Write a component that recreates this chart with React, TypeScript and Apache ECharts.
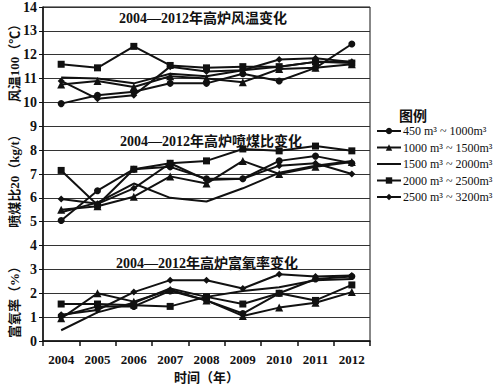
import React, { useEffect, useRef } from "react";
import * as echarts from "echarts";

const years = ["2004", "2005", "2006", "2007", "2008", "2009", "2010", "2011", "2012"];
const seriesNames = [
  "450 m³ ~ 1000m³",
  "1000 m³ ~ 1500m³",
  "1500 m³ ~ 2000m³",
  "2000 m³ ~ 2500m³",
  "2500 m³ ~ 3200m³",
];
const symbols = ["circle", "triangle", "none", "rect", "diamond"];
const symbolSizes = [7, 8, 0, 7, 7];

// 风温100（℃）
const windTemp = [
  [9.95, 10.3, 10.45, 10.8, 10.8, 11.2, 10.9, 11.45, 12.45],
  [10.75, 10.9, 10.65, 11.1, 11.0, 10.85, 11.4, 11.45, 11.6],
  [11.05, 11.0, 10.8, 11.2, 11.1, 11.35, 11.5, 11.7, 11.7],
  [11.6, 11.45, 12.35, 11.55, 11.45, 11.5, 11.5, 11.7, 11.65],
  [10.9, 10.15, 10.3, 11.5, 11.3, 11.35, 11.8, 11.85, 11.7],
];
// 喷煤比20（kg/t）
const coalRatio = [
  [5.05, 6.3, 7.2, 7.3, 6.8, 6.8, 7.55, 7.75, 7.45],
  [5.5, 5.65, 6.05, 6.9, 6.6, 7.55, 7.0, 7.3, 7.5],
  [5.4, 5.8, 6.6, 6.0, 5.85, 6.4, 7.05, 7.35, 7.55],
  [7.15, 5.7, 7.2, 7.45, 7.55, 8.05, 7.97, 8.17, 7.97],
  [5.95, 5.75, 6.4, 7.45, 6.75, 6.8, 7.35, 7.45, 7.0],
];
// 富氧率（%）
const oxygenRate = [
  [1.05, 1.45, 1.45, 2.1, 1.7, 1.15, 2.0, 2.6, 2.7],
  [0.95, 2.0, 1.65, 2.15, 1.7, 1.05, 1.4, 1.6, 2.05],
  [0.45, 1.2, 1.6, 2.2, 1.85, 2.1, 2.25, 2.55, 2.6],
  [1.55, 1.55, 1.5, 1.45, 1.85, 1.55, 2.0, 1.7, 2.35],
  [1.1, 1.3, 2.05, 2.55, 2.55, 2.2, 2.8, 2.7, 2.75],
];

const groupTitles = ["2004—2012年高炉风温变化", "2004—2012年高炉喷煤比变化", "2004—2012年高炉富氧率变化"];
const axisNames = ["风温100（℃）", "喷煤比20（kg/t）", "富氧率（%）"];

const FONT = "'Liberation Serif', 'Noto Sans CJK SC', serif";

export default function App() {
  const ref = useRef<HTMLDivElement>(null);
  useEffect(() => {
    if (!ref.current) return;
    const chart = echarts.init(ref.current, undefined, { renderer: "svg" });
    const groups = [windTemp, coalRatio, oxygenRate];
    const series: any[] = [];
    groups.forEach((g) => {
      g.forEach((vals, i) => {
        series.push({
          name: seriesNames[i],
          type: "line",
          data: vals,
          symbol: symbols[i],
          symbolSize: symbolSizes[i],
          showSymbol: symbols[i] !== "none",
          lineStyle: { color: "#111", width: 2 },
          itemStyle: { color: "#111" },
          z: 3,
        });
      });
    });
    chart.setOption({
      animation: false,
      grid: { left: 43, top: 5.5, right: 130, bottom: 40.5, show: true, borderColor: "#111", borderWidth: 1 },
      legend: {
        data: seriesNames.map((n, i) =>
          symbols[i] === "none" ? { name: n, itemStyle: { opacity: 0, borderWidth: 0 } } : { name: n }
        ),
        orient: "vertical",
        left: 376,
        top: 125,
        itemWidth: 24,
        itemHeight: 8,
        itemGap: 4.5,
        padding: 0,
        textStyle: { fontFamily: FONT, fontSize: 12, color: "#111", padding: [0, 0, 0, -3] },
      },
      xAxis: {
        type: "category",
        data: years,
        boundaryGap: true,
        axisLine: { lineStyle: { color: "#111", width: 1.5 } },
        axisTick: { show: true, inside: false, length: 5, interval: 0, lineStyle: { color: "#111", width: 1.5 } },
        axisLabel: { fontFamily: FONT, fontSize: 13, fontWeight: "bold", color: "#111", margin: 12, interval: 0 },
        name: "时间（年）",
        nameLocation: "middle",
        nameGap: 30,
        nameTextStyle: { fontFamily: FONT, fontSize: 13, fontWeight: "bold", color: "#111" },
      },
      yAxis: {
        type: "value",
        min: 0,
        max: 14,
        interval: 1,
        axisLine: { show: true, lineStyle: { color: "#111", width: 1.5 } },
        axisTick: { show: true, inside: false, length: 4, lineStyle: { color: "#111" } },
        axisLabel: { fontFamily: FONT, fontSize: 14, fontWeight: "bold", color: "#111", margin: 6 },
        splitLine: { show: true, lineStyle: { color: "#333", width: 1 } },
      },
      graphic: [
        { type: "text", x: 203, y: 18, style: { text: groupTitles[0], font: `bold 14px ${FONT}`, fill: "#111", align: "center", verticalAlign: "middle" }, z: 10 },
        { type: "text", x: 211, y: 141, style: { text: groupTitles[1], font: `bold 14px ${FONT}`, fill: "#111", align: "center", verticalAlign: "middle" }, z: 10 },
        { type: "text", x: 207, y: 263, style: { text: groupTitles[2], font: `bold 14px ${FONT}`, fill: "#111", align: "center", verticalAlign: "middle" }, z: 10 },
        { type: "text", x: 14, y: 60, rotation: Math.PI / 2, style: { text: axisNames[0], font: `bold 13px ${FONT}`, fill: "#111", align: "center", verticalAlign: "middle" } },
        { type: "text", x: 14, y: 178, rotation: Math.PI / 2, style: { text: axisNames[1], font: `bold 13px ${FONT}`, fill: "#111", align: "center", verticalAlign: "middle" } },
        { type: "text", x: 14, y: 299, rotation: Math.PI / 2, style: { text: axisNames[2], font: `bold 13px ${FONT}`, fill: "#111", align: "center", verticalAlign: "middle" } },
        { type: "text", x: 413, y: 116, style: { text: "图例", font: `bold 14px ${FONT}`, fill: "#111", align: "center", verticalAlign: "middle" } },
      ],
      series,
    });
    return () => chart.dispose();
  }, []);
  return <div ref={ref} style={{ position: "absolute", left: 0, top: 0, width: 500, height: 389, background: "#fff" }} />;
}
